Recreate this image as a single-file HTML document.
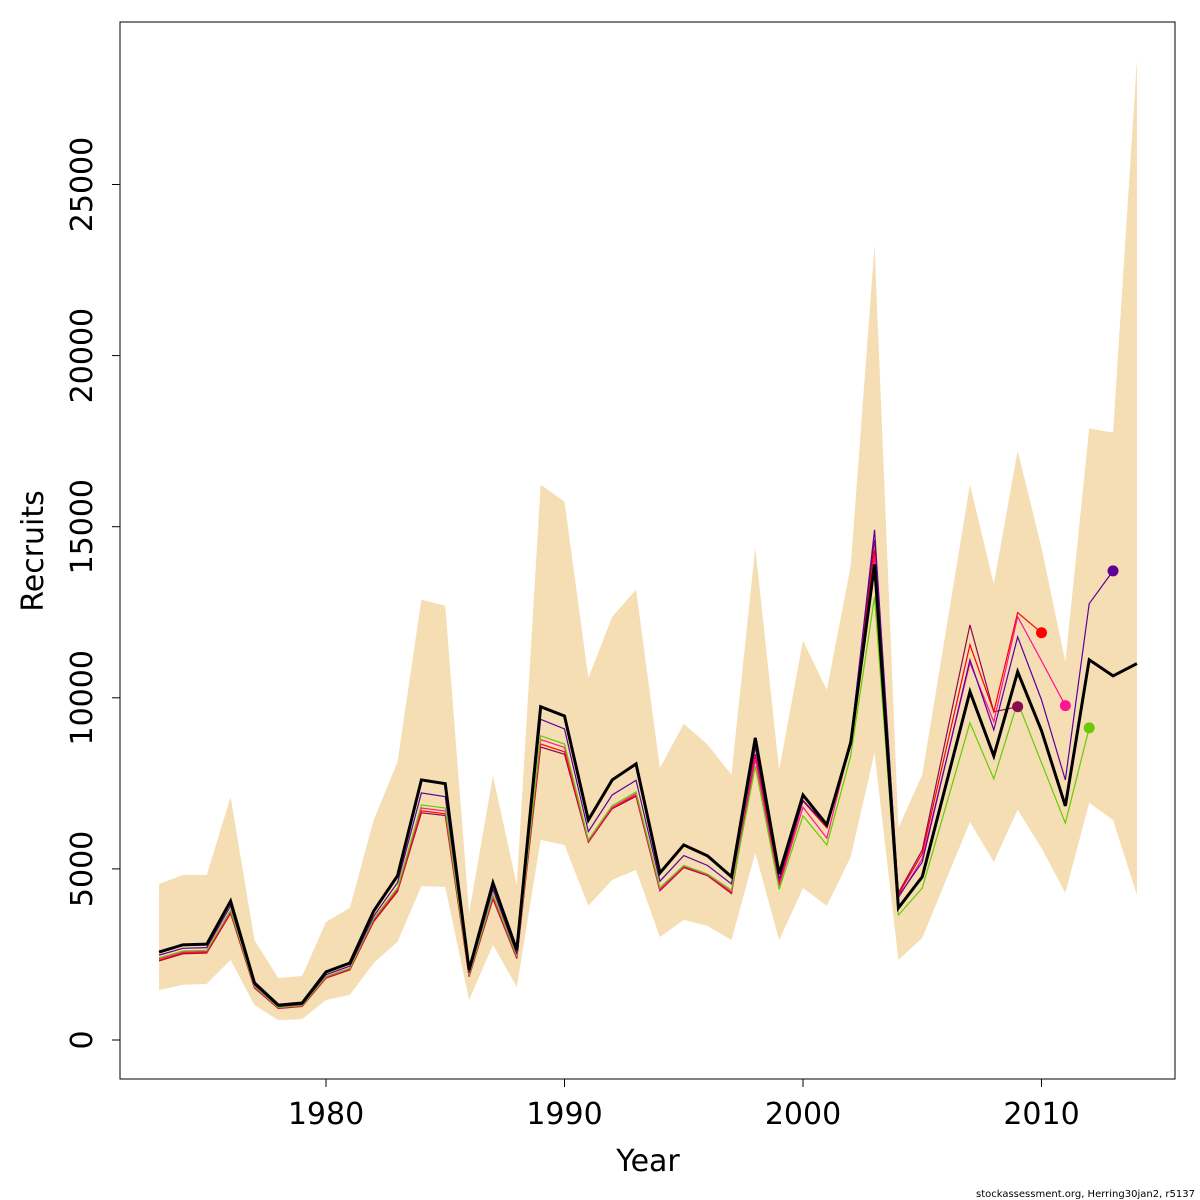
<!DOCTYPE html>
<html><head><meta charset="utf-8"><style>
html,body{margin:0;padding:0;background:#fff;}
svg{display:block;font-family:"DejaVu Sans","Liberation Sans",sans-serif;}
</style></head><body>
<svg id="chart" width="1200" height="1200" viewBox="0 0 1200 1200">
<g id="band"></g>
<g id="lines"></g>
<g id="dots"></g>
<rect x="120" y="22" width="1055" height="1057" fill="none" stroke="#000" stroke-width="1"/>
<g id="yaxis"></g>
<g id="xaxis"></g>
<text x="43" y="551" font-size="30" text-anchor="middle" transform="rotate(-90 43 551)">Recruits</text>
<text x="648" y="1171" font-size="30" text-anchor="middle">Year</text>
<text x="1195" y="1197" font-size="10" text-anchor="end">stockassessment.org, Herring30jan2, r5137</text>
</svg>
<script>
const startYear = 1973;
const yTicks = [0,5000,10000,15000,20000,25000];
const xTicks = [1980,1990,2000,2010];
const estimate = [2570,2780,2800,4060,1670,1020,1080,1990,2250,3770,4800,7600,7490,2050,4590,2630,9740,9470,6430,7600,8070,4880,5700,5380,4770,8830,4850,7160,6290,8680,13900,3860,4770,7475,10180,8300,10760,9040,6840,11110,10640,11000];
const upper = [4560,4820,4820,7100,2920,1810,1870,3450,3860,6430,8130,12870,12690,3710,7720,4530,16230,15730,10580,12370,13160,7950,9240,8630,7750,14390,7890,11670,10230,13860,23220,6200,7750,11990,16230,13330,17220,14390,11050,17870,17750,28630];
const lower = [1460,1610,1640,2340,1020,580,610,1170,1320,2250,2870,4500,4470,1170,2780,1550,5850,5700,3920,4680,4970,3010,3510,3330,2920,5470,2920,4440,3920,5350,8390,2340,2980,4680,6370,5200,6730,5610,4300,6930,6430,4240];
const peelPurple = [2480,2680,2700,3920,1610,980,1040,1910,2160,3620,4600,7220,7110,1960,4400,2520,9370,9090,6090,7160,7590,4640,5390,5100,4560,8560,4700,7000,6250,8750,14910,4200,5200,8150,11110,9060,11780,9940,7600,12750,13710];
const peelGreen = [2400,2600,2620,3800,1570,950,1010,1860,2100,3550,4450,6870,6780,1900,4250,2450,8890,8650,5850,6850,7250,4450,5100,4850,4380,8000,4400,6550,5700,8300,12950,3650,4440,6850,9270,7630,9880,8100,6340,9120];
const peelPink = [2370,2570,2590,3760,1550,940,1000,1840,2080,3520,4420,6780,6690,1880,4200,2420,8780,8550,5820,6800,7200,4400,5080,4830,4330,8200,4500,6800,5900,8700,14120,4150,5300,8150,11020,9300,12370,11080,9770];
const peelRed = [2330,2540,2560,3720,1530,930,990,1820,2060,3480,4370,6700,6610,1860,4150,2400,8650,8420,5800,6780,7150,4380,5060,4820,4300,8300,4550,6980,6200,8750,14330,4250,5450,8500,11550,9590,12490,11900];
const peelMaroon = [2310,2520,2540,3700,1520,920,980,1810,2050,3460,4340,6640,6560,1850,4120,2380,8560,8350,5780,6760,7120,4360,5040,4800,4280,8350,4600,7000,6250,8800,14620,4300,5550,8850,12130,9590,9740];

const NS="http://www.w3.org/2000/svg";
function X(year){return 326+(year-1980)*23.85;}
function Y(v){return 1040-v*0.03422;}
function mk(tag,parent,attrs){const e=document.createElementNS(NS,tag);for(const k in attrs)e.setAttribute(k,attrs[k]);parent.appendChild(e);return e;}

const band=document.getElementById('band');
let pts=upper.map((v,i)=>X(startYear+i)+','+Y(v));
for(let i=lower.length-1;i>=0;i--)pts.push(X(startYear+i)+','+Y(lower[i]));
const poly=mk('polygon',band,{points:pts.join(' '),fill:'#F5DEB3',stroke:'none'});



const lines=document.getElementById('lines');
const dots=document.getElementById('dots');
const peels=[[peelMaroon,'#8B0A50','peel-2009'],[peelRed,'#FF0000','peel-2010'],[peelPink,'#FF1493','peel-2011'],[peelGreen,'#66CC00','peel-2012'],[peelPurple,'#5D0099','peel-2013']];
peels.forEach(([arr,col,name])=>{
  const pl=mk('polyline',lines,{points:arr.map((v,i)=>X(startYear+i)+','+Y(v)).join(' '),fill:'none',stroke:col,'stroke-width':1.2});
  
  
  const n=arr.length-1;
  const c=mk('circle',dots,{cx:X(startYear+n),cy:Y(arr[n]),r:5.5,fill:col});
  
  
});
const est=mk('polyline',lines,{points:estimate.map((v,i)=>X(startYear+i)+','+Y(v)).join(' '),fill:'none',stroke:'#000','stroke-width':3,'stroke-linejoin':'miter'});



const ya=document.getElementById('yaxis');
mk('line',ya,{x1:120,x2:120,y1:Y(0),y2:Y(25000),stroke:'#000'});
yTicks.forEach(t=>{
  const y=Y(t);
  const tk=mk('line',ya,{x1:112,x2:120,y1:y,y2:y,stroke:'#000'});
  
  
  const tx=mk('text',ya,{x:92,y:y,'font-size':30,'text-anchor':'middle',transform:`rotate(-90 92 ${y})`});
  tx.textContent=t;
  
  
});
const xa=document.getElementById('xaxis');
xTicks.forEach(t=>{
  const x=X(t);
  const tk=mk('line',xa,{x1:x,x2:x,y1:1079,y2:1087,stroke:'#000'});
  
  
  const tx=mk('text',xa,{x:x,y:1124,'font-size':30,'text-anchor':'middle'});
  tx.textContent=t;
  
  
});
</script>
</body></html>
